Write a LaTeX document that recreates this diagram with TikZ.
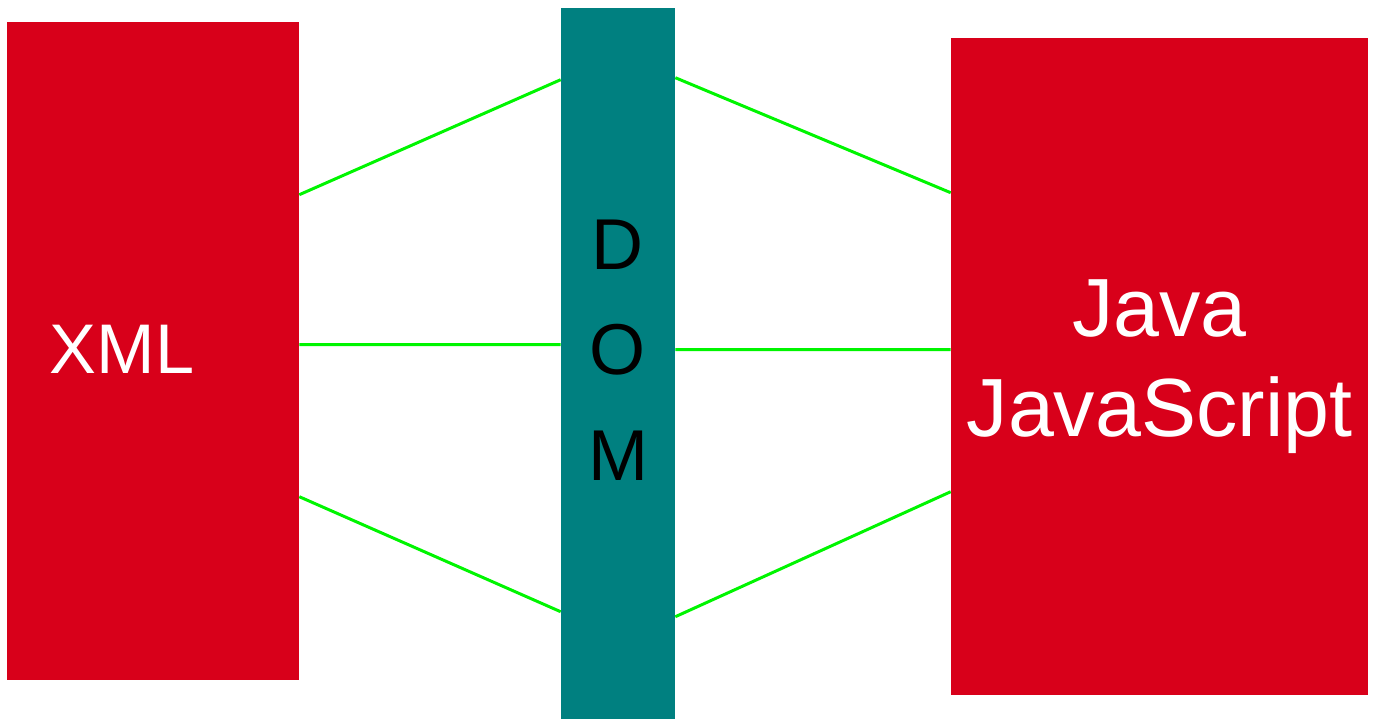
\documentclass[tikz,border=0pt]{standalone}
\usepackage{fontspec}
\setmainfont{Liberation Sans}
\usepackage{tikz}
\definecolor{dmred}{RGB}{216,0,26}
\definecolor{dmteal}{RGB}{0,128,128}
\definecolor{dmgreen}{RGB}{0,245,0}
\usetikzlibrary{calc}
\tikzset{
    dmbox/.style={fill=dmred, inner sep=0pt, text=white, align=center},
    dmbar/.style={fill=dmteal, inner sep=0pt},
    dmlink/.style={draw=dmgreen, line width=1.7pt},
    dmletters/.style={align=center, text=black, font=\fontsize{41}{60}\selectfont}
}

\begin{document}
\begin{tikzpicture}[x=0.02cm, y=-0.02cm]
  \useasboundingbox (0,0) rectangle (1376,719);
  \node[dmbox, minimum width=5.84cm, minimum height=13.16cm] (xml) at (153,351) {};
  \node[text=white, font=\fontsize{40}{48}\selectfont] (xmltxt) at (122,349) {XML};
  \node[dmbar, minimum width=2.28cm, minimum height=14.22cm] (dom) at (618,363.5) {};
  \node[dmletters] (domtxt) at (618,350) {D\\O\\M};
  \node[dmbox, minimum width=8.34cm, minimum height=13.14cm,
        font=\fontsize{47}{57}\selectfont] (java) at (1159.5,366.5) {Java\\JavaScript};
  % links xml -> dom
  \draw[dmlink] ($(xml.north east)+(0,173)$) -- ($(dom.north west)+(0,72)$);
  \draw[dmlink] ($(xml.north east)+(0,323)$) -- ($(dom.north west)+(0,337)$);
  \draw[dmlink] ($(xml.north east)+(0,475)$) -- ($(dom.north west)+(0,604)$);
  % links dom -> java
  \draw[dmlink] ($(dom.north east)+(0,70)$) -- ($(java.north west)+(0,155)$);
  \draw[dmlink] ($(dom.north east)+(0,342)$) -- ($(java.north west)+(0,312)$);
  \draw[dmlink] ($(dom.north east)+(0,609)$) -- ($(java.north west)+(0,454)$);
\end{tikzpicture}
\end{document}
